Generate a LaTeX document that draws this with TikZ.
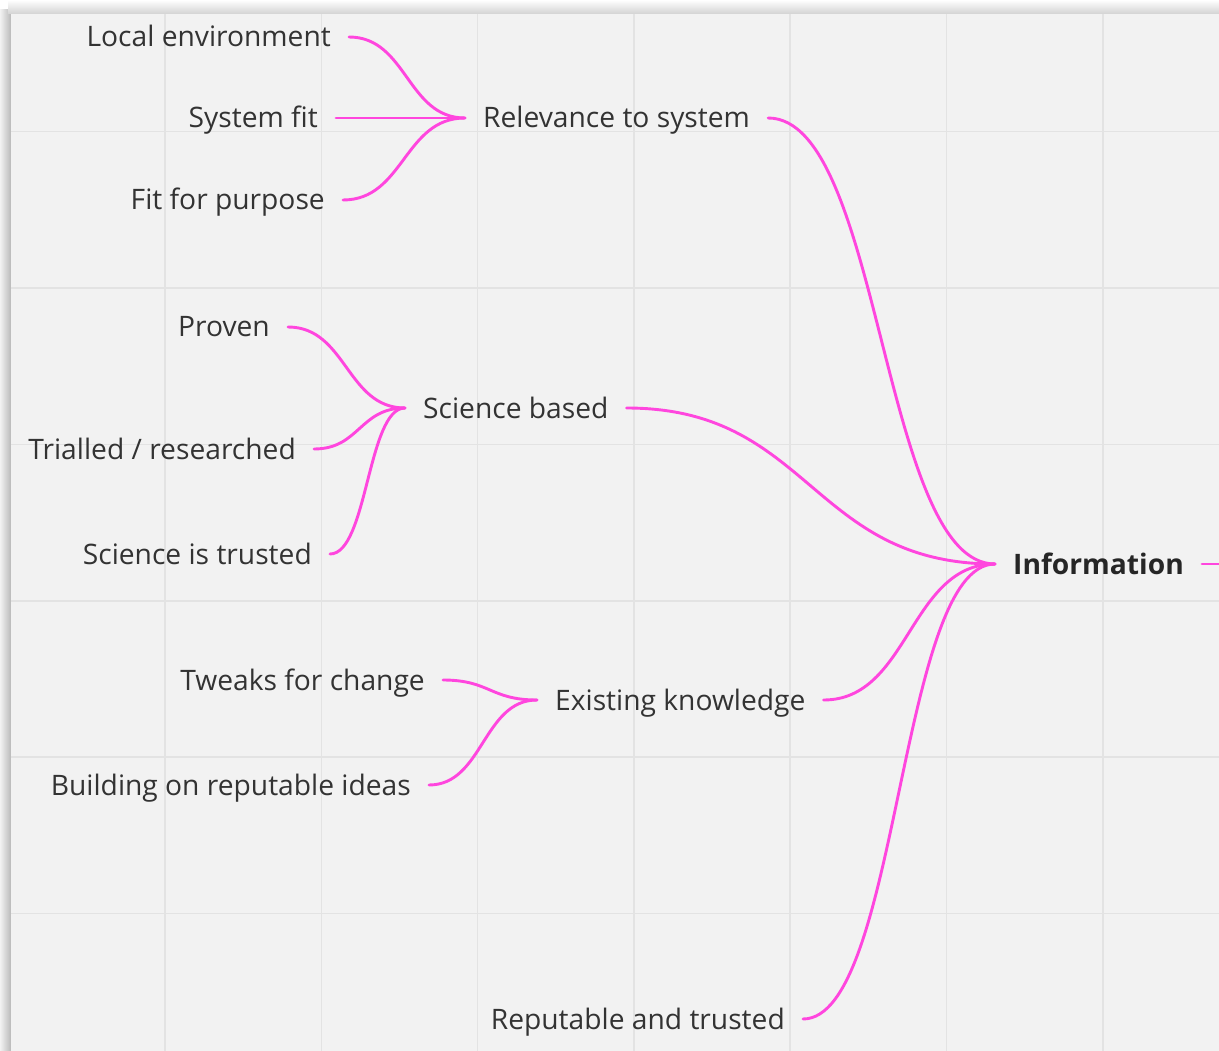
\documentclass[tikz,border=0pt]{standalone}
\usepackage{fontspec}
\setmainfont{Open Sans}
\usepackage{tikz}
\usetikzlibrary{positioning, calc}

\definecolor{board}{HTML}{F2F2F2}
\definecolor{gridline}{HTML}{E3E3E3}
\definecolor{inktext}{HTML}{333333}
\definecolor{branch}{RGB}{255,70,222}

\begin{document}
\begin{tikzpicture}[x=1pt, y=-1pt,
    topic/.style={inner xsep=18pt, inner ysep=0pt, text height=20pt, text depth=0pt,
      text=inktext, font=\fontsize{28.2}{34}\selectfont},
    hub/.style={topic, font=\fontsize{28.2}{34}\selectfont\bfseries, text=black!85},
    link/.style={draw=branch, line width=2.9pt, line cap=round},
    ]

    % board with its shadow
    \useasboundingbox (0,0) rectangle (1219,1051);
    \fill[white] (0,0) rectangle (1219,1051);
    \shade[left color=gray!10, right color=gray!55] (0,10) rectangle (11,1051);
    \shade[top color=white, bottom color=gray!35] (8,0) rectangle (1219,14);
    \fill[board] (11,14) rectangle (1219,1051);

    % grid
    \foreach \gx in {165,321.3,477.6,633.9,790.2,946.5,1102.8}
      \draw[gridline, line width=1.6pt] (\gx,14) -- (\gx,1051);
    \foreach \gy in {131.5,288,444.3,600.7,757,913.4}
      \draw[gridline, line width=1.6pt] (11,\gy) -- (1219,\gy);

    % main hub
    \node[hub, anchor=west] (info) at (995,564) {Information};
    \coordinate (out) at (1219,564);

    % middle level
    \node[topic, anchor=west] (relevance) at (465,118) {Relevance to system};
    \node[topic, anchor=west] (science) at (405,408) {Science based};
    \node[topic, anchor=west] (existing) at (537,700) {Existing knowledge};
    \node[topic, anchor=east] (reputable) at (803,1019) {Reputable and trusted};

    % leaves
    \node[topic, anchor=east] (local) at (349,37) {Local environment};
    \node[topic, anchor=east] (sysfit) at (336,118) {System fit};
    \node[topic, anchor=east] (purpose) at (343,200) {Fit for purpose};

    \node[topic, anchor=east] (proven) at (288,327) {Proven};
    \node[topic, anchor=east] (trialled) at (314,449) {Trialled / researched};
    \node[topic, anchor=east] (trusted) at (330,554) {Science is trusted};

    \node[topic, anchor=east] (tweaks) at (443,680) {Tweaks for change};
    \node[topic, anchor=east] (building) at (429,785) {Building on reputable ideas};

    % branches into the hub
    \foreach \src in {relevance, science, existing, reputable}
      \draw[link] let \p1=(\src.east), \p2=(info.west), \p3=($(\p1)!0.5!(\p2)$) in
        (\p1) .. controls (\x3,\y1) and (\x3,\y2) .. (\p2);
    \draw[link] (info.east) -- (out);

    % leaves into their topics
    \foreach \src/\dst in {local/relevance, sysfit/relevance, purpose/relevance,
                           proven/science, trialled/science, trusted/science,
                           tweaks/existing, building/existing}
      \draw[link] let \p1=(\src.east), \p2=(\dst.west), \p3=($(\p1)!0.5!(\p2)$) in
        (\p1) .. controls (\x3,\y1) and (\x3,\y2) .. (\p2);
\end{tikzpicture}
\end{document}
